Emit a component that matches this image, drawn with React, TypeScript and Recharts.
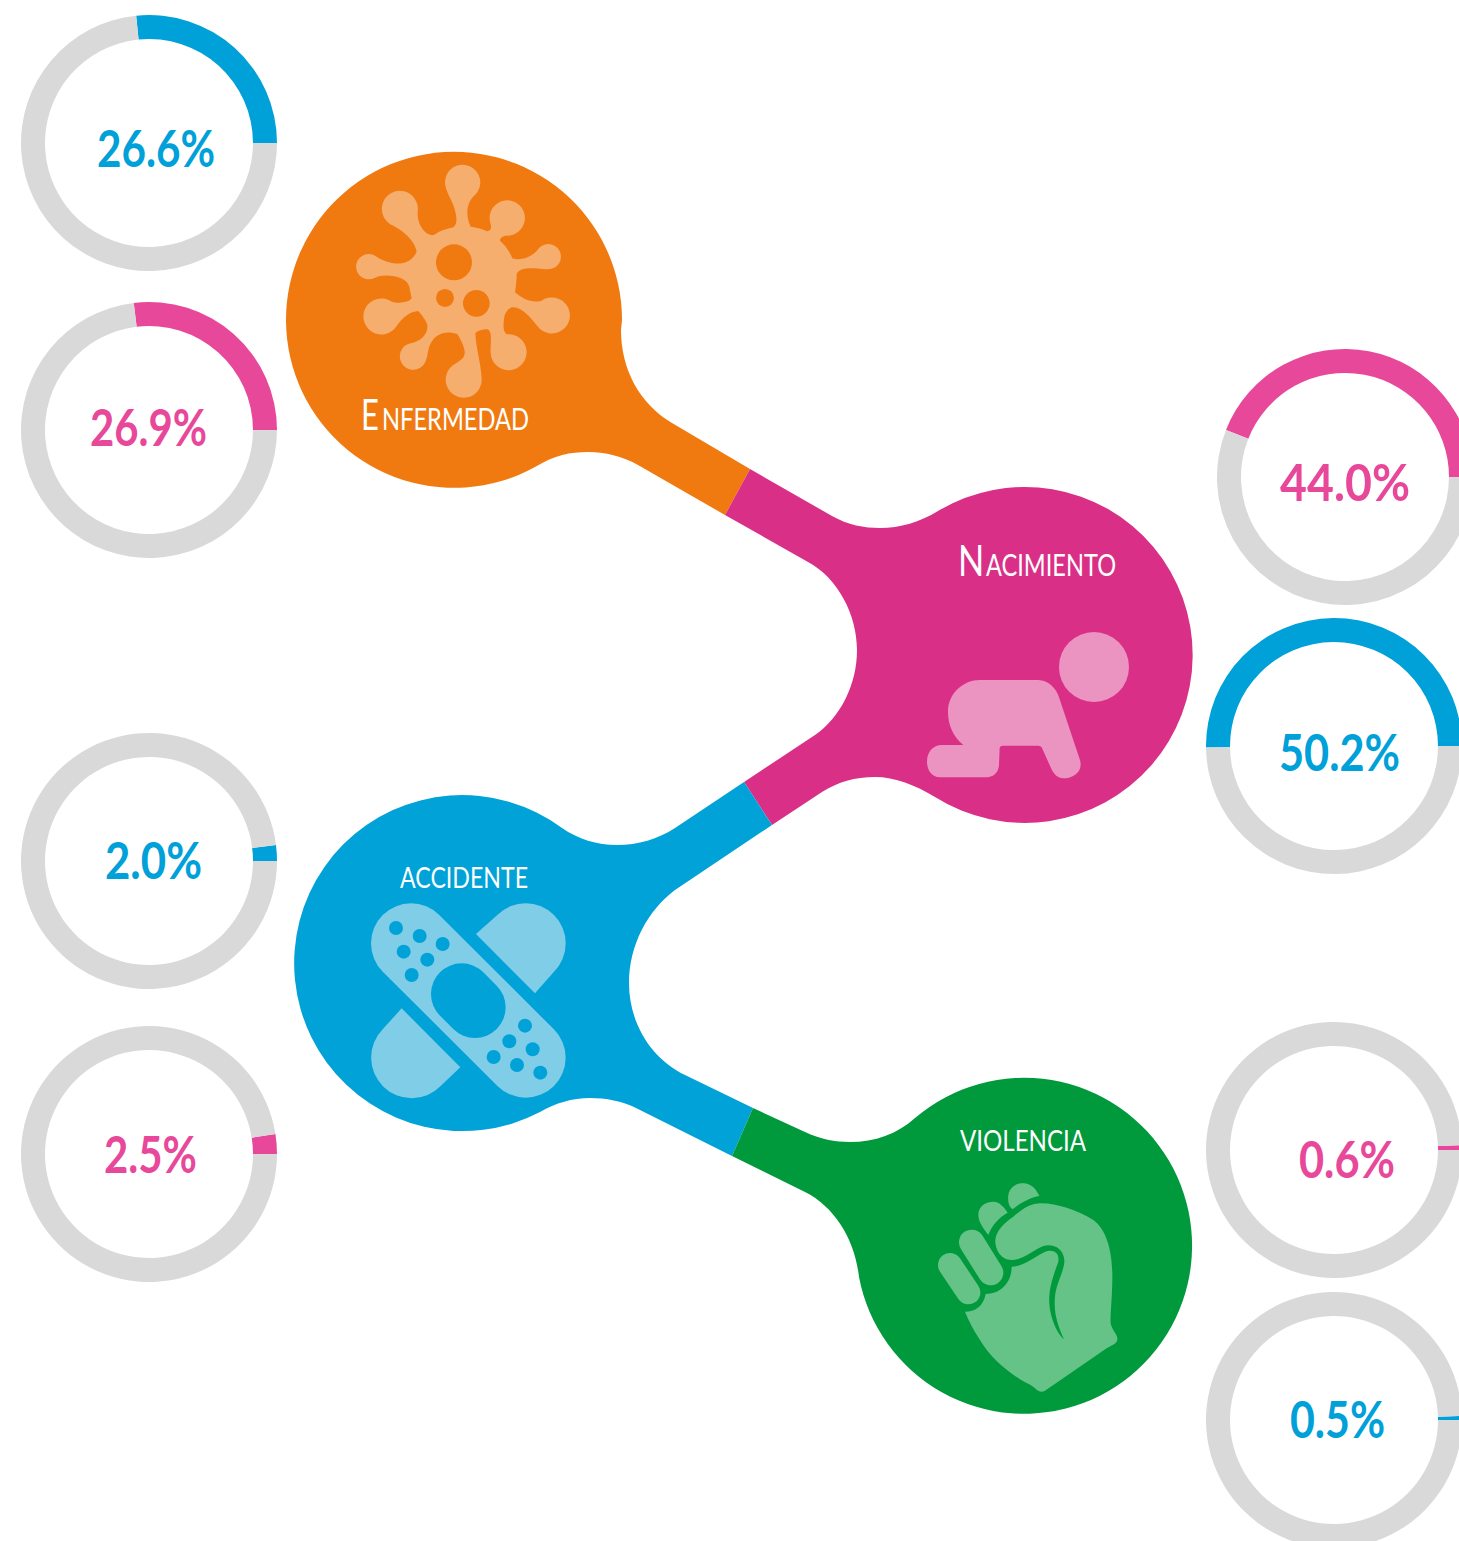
import { Cell, Pie, PieChart } from "recharts";

// share of deaths per cause, two rings each (blue = first ring, pink = second)
const causes = ["Enfermedad", "Nacimiento", "Accidente", "Violencia"];
const blueShare = [26.6, 50.2, 2.0, 0.5];
const pinkShare = [26.9, 44.0, 2.5, 0.6];

const BLUE = "#00A0D8";
const PINK = "#E8489A";
const GRAY = "#D9D9D9";
const FONT = "Lato, sans-serif";

// ring centre and label box per cause: [cx, cy, textLeft, textRight, baseline]
const blueLayout = [
  [149, 143, 97, 215, 167],
  [1334, 746, 1279, 1400, 771],
  [149, 861, 105, 202, 879],
  [1334, 1420, 1290, 1385, 1438],
];
const pinkLayout = [
  [149, 430, 90, 207, 446],
  [1345, 477, 1280, 1410, 501],
  [149, 1154, 104, 197, 1173],
  [1334, 1150, 1299, 1395, 1178],
];

function Ring({ id, value, cx, cy, color }: { id: string; value: number; cx: number; cy: number; color: string }) {
  const start = value * 3.6;
  return (
    <Pie
      key={id}
      data={[{ v: value }, { v: 100 - value }]}
      dataKey="v"
      cx={cx}
      cy={cy}
      innerRadius={104}
      outerRadius={128}
      startAngle={start}
      endAngle={start - 360}
      stroke="none"
      isAnimationActive={false}
    >
      <Cell fill={color} />
      <Cell fill={GRAY} />
    </Pie>
  );
}

function Pct({ value, box, color }: { value: number; box: number[]; color: string }) {
  return (
    <text
      x={box[2]}
      y={box[4]}
      fill={color}
      fontFamily={FONT}
      fontSize={52}
      fontWeight={700}
      textLength={box[3] - box[2]}
      lengthAdjust="spacingAndGlyphs"
    >
      {`${value.toFixed(1)}%`}
    </text>
  );
}

function Label({ text, x, y, width, size }: { text: string; x: number; y: number; width: number; size: number }) {
  return (
    <text x={x} y={y} fill="#fff" fontFamily={FONT} fontWeight={400} fontSize={size} textLength={width} lengthAdjust="spacingAndGlyphs">
      {text.toUpperCase()}
    </text>
  );
}

// big first letter of the small-caps labels, squeezed sideways
function Initial({ text, x, y, squeeze, size }: { text: string; x: number; y: number; squeeze: number; size: number }) {
  return (
    <text transform={`translate(${x},${y}) scale(${squeeze},1)`} fill="#fff" fontFamily={FONT} fontWeight={400} fontSize={size}>
      {text.toUpperCase()}
    </text>
  );
}

function Blobs() {
  return (
    <g>
      <path
        fill="#F07A10"
        d="M750,469 L672,423 C640,404 621,370 621,330 L622,320 A168,168 0 1 0 535,467 C555,455 570,452 588,452 C605,452 622,456 638,465 L725,515 Z"
      />
      <path
        fill="#DA2F87"
        d="M750,469 L832,516 C848,525 864,528 880,528 C900,528 920,522 938,511 A168,168 0 1 1 935,797 C915,785 895,777 875,777 C855,777 838,782 822,792 L772,825 L744,782 L815,735 C840,718 857,685 857,650 C857,615 838,578 808,562 L725,515 Z"
      />
      <path
        fill="#00A2D8"
        d="M744,782 L675,828 C658,839 638,845 617,845 C597,845 578,839 562,828 A168,168 0 1 0 540,1112 C556,1103 572,1098 590,1098 C606,1098 622,1101 636,1108 L732,1156 L753,1108 L685,1075 C650,1058 629,1022 629,983 C629,945 648,910 675,890 L772,825 Z"
      />
      <path
        fill="#009A3D"
        d="M753,1108 L805,1132 C820,1139 835,1142 850,1142 C875,1142 897,1134 915,1118 A168,168 0 1 1 859,1277 C855,1240 835,1207 805,1192 L732,1156 Z"
      />
    </g>
  );
}

function Virus() {
  return (
    <g transform="translate(280,140) scale(0.3333)">
      <path
        fill="#F5AE6E"
        d="M520,262 C535,250 530,225 520,195 C510,170 495,150 495,125 A53,53 0 1 1 585,165 C560,185 555,225 572,260 C590,262 610,268 622,274 C635,272 635,260 630,245 A53,53 0 1 1 682,287 C670,287 660,292 660,302 C675,315 688,332 697,355 C720,362 750,355 772,331 A38,38 0 1 1 805,388 C780,388 720,375 710,402 C710,420 708,440 705,457 C730,478 755,490 785,482 A54,54 0 1 1 772,558 C750,530 720,495 692,503 C682,510 675,520 673,530 C670,550 668,575 680,583 A54,54 0 1 1 632,640 C630,615 640,575 622,568 C610,567 595,572 587,578 C583,600 605,680 605,715 A54,54 0 1 1 525,672 C545,660 560,650 552,625 C548,610 540,595 533,583 C500,570 470,580 455,605 C442,625 445,645 438,660 A40,40 0 1 1 392,610 C420,605 445,585 442,555 C438,540 425,525 415,513 C390,515 370,530 350,558 A54,54 0 1 1 330,482 C345,492 385,490 395,475 C392,462 390,450 388,440 C380,405 310,400 285,413 A38,38 0 1 1 292,352 C320,370 385,390 410,335 C405,300 365,270 340,257 A54,54 0 1 1 413,215 C410,250 435,290 462,285 C480,272 500,267 520,262 Z"
      />
      <circle cx={522} cy={367} r={54} fill="#F07A10" />
      <circle cx={589} cy={490} r={40} fill="#F07A10" />
      <circle cx={495} cy={474} r={27} fill="#F07A10" />
    </g>
  );
}

function Baby() {
  return (
    <g transform="translate(900,530) scale(0.3333)" fill="#EC94C1">
      <circle cx={582} cy={411} r={105} />
      <path d="M240,450 L415,450 C445,450 470,475 478,505 L540,690 C550,725 520,745 490,745 C470,745 460,730 452,712 L425,652 Q422,647 415,647 L308,647 Q300,647 299,655 L297,705 C295,730 280,742 255,742 L120,742 C95,742 81,720 81,695 C81,665 100,645 125,645 L190,645 C160,620 144,585 144,545 C144,490 190,450 240,450 Z" />
    </g>
  );
}

const plasterDots = [
  [138, 234], [209, 258], [278, 282], [161, 305], [232, 329], [185, 375],
  [525, 527], [478, 574], [548, 598], [431, 621], [501, 645], [571, 668],
];

function Plaster() {
  return (
    <g transform="translate(350,850) scale(0.3333)">
      <line x1={183} y1={280} x2={527} y2={623} stroke="#80CDE8" strokeWidth={240} strokeLinecap="round" />
      <line x1={335} y1={432} x2={375} y2={472} stroke="#00A2D8" strokeWidth={184} strokeLinecap="round" />
      <path fill="#80CDE8" d="M378,252 L442,195 A120,120 0 0 1 612,365 L555,430 Z" />
      <path fill="#80CDE8" d="M155,475 L331,652 L272,708 A120,120 0 0 1 98,538 Z" />
      {plasterDots.map(([x, y]) => (
        <circle key={`${x}-${y}`} cx={x} cy={y} r={21} fill="#00A2D8" />
      ))}
    </g>
  );
}

function Fist() {
  return (
    <g transform="translate(920,1120) scale(0.3333)" fill="#66C388">
      <line x1={90} y1={435} x2={145} y2={517} stroke="#66C388" strokeWidth={72} strokeLinecap="round" />
      <line x1={155} y1={367} x2={212} y2={458} stroke="#66C388" strokeWidth={76} strokeLinecap="round" />
      <path d="M205,345 C190,325 175,305 175,285 C175,260 195,245 220,245 C240,245 255,265 263,278 C240,290 215,315 205,345 Z" />
      <path d="M278,268 C265,260 263,240 265,225 C270,200 290,190 310,190 C335,190 350,210 358,228 C330,232 300,250 278,268 Z" />
      <path d="M135,575 C165,575 190,560 197,522 C240,522 275,490 275,440 C310,440 345,410 370,398 C395,385 420,395 415,425 C405,455 385,500 388,550 C390,590 410,640 432,658 C415,620 400,580 405,530 C408,490 435,450 433,420 C430,385 400,370 370,378 C340,390 310,420 275,420 C240,420 225,385 226,360 C228,335 250,310 280,290 C310,265 330,250 365,250 C410,250 470,270 520,300 C560,330 575,390 577,460 C578,520 570,590 572,610 C575,630 595,645 592,660 C590,672 575,675 560,685 L375,812 C365,818 355,815 345,805 C335,795 320,790 300,778 C250,745 210,710 180,660 C160,630 145,600 135,575 Z" />
    </g>
  );
}

export default function App() {
  return (
    <div style={{ position: "absolute", left: 0, top: 0, width: 1459, height: 1541, overflow: "hidden", background: "#fff" }}>
      <PieChart width={1459} height={1541} margin={{ top: 0, right: 0, bottom: 0, left: 0 }}>
        <Blobs />
        <Virus />
        <Baby />
        <Plaster />
        <Fist />
        <Initial text={causes[0][0]} x={361} y={430} squeeze={0.72} size={43} />
        <Label text={causes[0].slice(1)} x={382} y={430} width={147} size={30} />
        <Initial text={causes[1][0]} x={958} y={576} squeeze={0.82} size={42} />
        <Label text={causes[1].slice(1)} x={986} y={576} width={130} size={30} />
        <Label text={causes[2]} x={400} y={888} width={128} size={29} />
        <Label text={causes[3]} x={960} y={1151} width={126} size={29} />
        {blueShare.map((v, i) => Ring({ id: `b${i}`, value: v, cx: blueLayout[i][0], cy: blueLayout[i][1], color: BLUE }))}
        {pinkShare.map((v, i) => Ring({ id: `p${i}`, value: v, cx: pinkLayout[i][0], cy: pinkLayout[i][1], color: PINK }))}
        {blueShare.map((v, i) => (
          <Pct key={`bt${i}`} value={v} box={blueLayout[i]} color={BLUE} />
        ))}
        {pinkShare.map((v, i) => (
          <Pct key={`pt${i}`} value={v} box={pinkLayout[i]} color={PINK} />
        ))}
      </PieChart>
    </div>
  );
}
